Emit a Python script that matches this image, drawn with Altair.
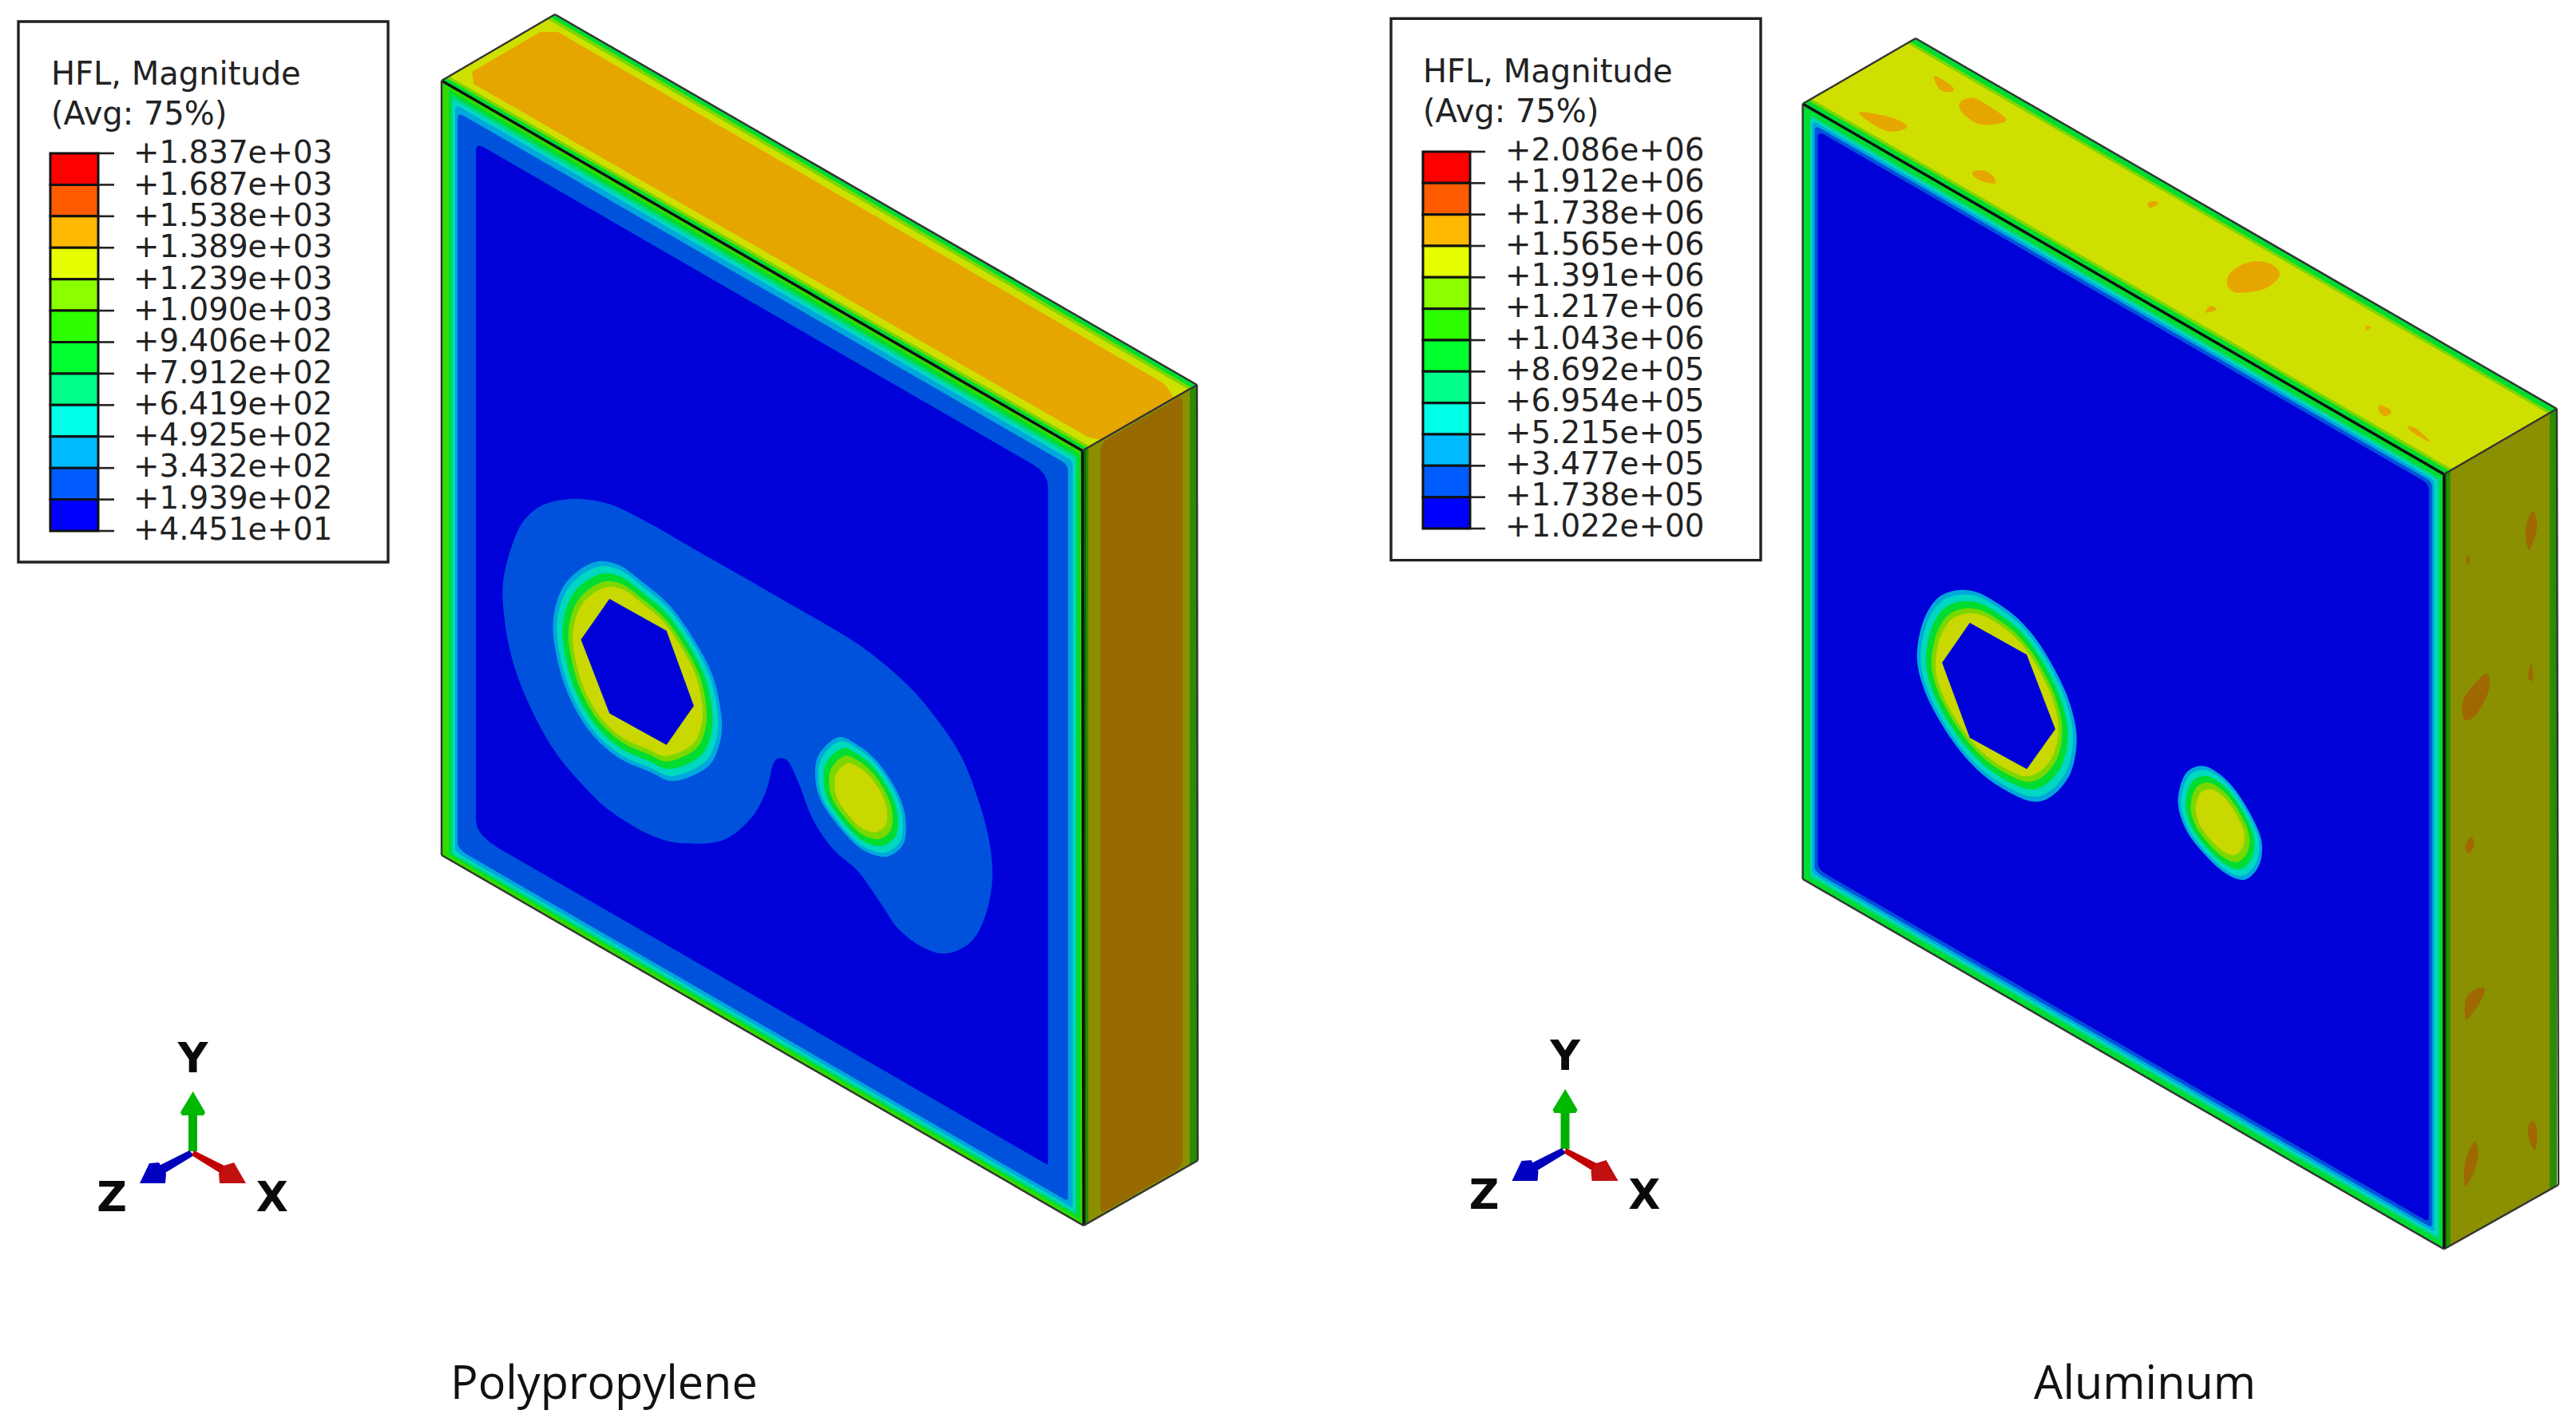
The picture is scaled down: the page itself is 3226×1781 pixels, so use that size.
import altair as alt
import pandas as pd

# ---- legend content
LABELS_PP = ["+1.837e+03","+1.687e+03","+1.538e+03","+1.389e+03","+1.239e+03","+1.090e+03","+9.406e+02",
             "+7.912e+02","+6.419e+02","+4.925e+02","+3.432e+02","+1.939e+02","+4.451e+01"]
LABELS_AL = ["+2.086e+06","+1.912e+06","+1.738e+06","+1.565e+06","+1.391e+06","+1.217e+06","+1.043e+06",
             "+8.692e+05","+6.954e+05","+5.215e+05","+3.477e+05","+1.738e+05","+1.022e+00"]
CELL_COLORS = ["#ff0000","#ff5c00","#ffb900","#e6ff00","#8bff00","#2eff00","#00ff2e","#00ff8b","#00ffe6","#00b9ff","#005cff","#0000ff"]

# ---- contour palette (as lit in the render)
DEEP, BLUE, CYAN, TEAL, MINT = "#0000d9", "#0052dc", "#00a8dc", "#00d8c0", "#00d880"
GREEN, LGREEN, LIME, YEL, ORANGE = "#00dc30", "#30dc00", "#7ad800", "#cfe000", "#e6a600"
RYEL = "#c8d800"
BROWN, OLIVE, SGREEN, DGREEN, SPOT = "#966a00", "#8a9000", "#2a8c00", "#0f6a00", "#a06800"

# ---- box corners
PP_FRONT = [(553,101),(1355.5,564.5),(1357,1535),(553,1071)]
PP_TOP   = [(553,101),(1355.5,564.5),(1499,482),(695,18)]
PP_SIDE  = [(1356,564.5),(1499,482),(1500,1453.5),(1357,1535)]
AL_FRONT = [(2257.6,130),(3060.7,594),(3060.7,1564.5),(2257.6,1101)]
AL_TOP   = [(2257.6,130),(3060.7,594),(3202,512),(2399,48)]
AL_SIDE  = [(3060.7,594),(3202,512),(3204,1484),(3060.7,1564.5)]

# (colour, left, right, top, bottom insets, corner cuts tl,tr,br,bl)
PP_FRONT_BANDS = [(LGREEN,0,0,0,0,(0,0,0,0)),(GREEN,9,3,6,6,(0,0,0,0)),(MINT,12,7,11,8,(4,2,2,4)),(TEAL,14,9,15,11,(5,3,3,5)),
                  (CYAN,17,12,20,14,(6,5,4,8)),(BLUE,20,18,28,19,(8,8,5,14)),(DEEP,43,43,53,50,(10,18,3,30))]
AL_FRONT_BANDS = [(GREEN,0,0,0,0,(0,0,0,0)),(MINT,9,5,8,8,(3,2,2,3)),(TEAL,10,8,11,11,(4,4,3,6)),(CYAN,12,12,14,14,(6,6,4,8)),
                  (BLUE,15,15,18,18,(7,7,5,10)),(DEEP,19,19,23,23,(8,8,6,12))]
PP_SIDE_BANDS = [(DGREEN,0,0,0,0,(0,0,0,0)),(SGREEN,4,0,0,0,(0,0,0,0)),(OLIVE,7,9,0,0,(0,0,0,0)),(BROWN,22,18,3,3,(10,8,10,8))]
AL_SIDE_BANDS = [(DGREEN,0,0,0,0,(0,0,0,0)),(SGREEN,3,0,0,0,(0,0,0,0)),(OLIVE,8,9,0,0,(0,0,0,0))]

# (colour, [(s, t), ...]) along the long edge and across the top face
PP_TOP_BANDS = [(GREEN,[(0,0),(1,0),(1,1),(0,1)]),
                (LIME,[(0,.04),(1,.04),(1,.96),(0,.96)]),
                (YEL,[(0,.065),(1,.065),(1,.93),(0,.93)]),
                (ORANGE,[(.03,.115),(.985,.128),(1,.165),(1,.808),(.974,.868),(.026,.879),(.012,.8),(.012,.2)])]
AL_TOP_BANDS = [(GREEN,[(0,0),(1,0),(1,1),(0,1)]),
                (LIME,[(0,.05),(1,.05),(1,.95),(0,.95)]),
                (YEL,[(0,.075),(1,.075),(1,.925),(0,.925)])]

# ---- hole and spot outlines, in crop pixels of the picture
PP_HEX = [(320,362),(460,458),(527,685),(460,803),(320,708),(250,485)]
PP_RING = [(280,252),(340,258),(400,310),(470,385),(530,490),(575,600),(595,720),(590,800),(560,870),(480,912),
           (420,885),(340,840),(270,760),(215,640),(185,500),(185,400),(215,310)]
PP_BLOB = [(175,70),(250,60),(330,80),(420,135),(540,220),(640,290),(760,375),(880,460),(960,525),(1050,620),(1120,720),
           (1180,830),(1220,950),(1250,1080),(1260,1200),(1245,1310),(1210,1395),(1150,1433),(1090,1415),(1030,1360),
           (985,1280),(930,1185),(870,1120),(820,1030),(785,920),(760,855),(740,843),(722,860),(705,940),(670,1020),
           (600,1090),(500,1100),(420,1075),(330,1010),(270,945),(190,830),(130,700),(85,560),(62,420),(60,300),(90,170),(125,105)]
PP_SMALL = [(880,780),(925,800),(975,850),(1020,930),(1045,1010),(1045,1090),(1020,1130),(985,1140),(930,1110),(870,1030),(835,960),(825,890),(835,830)]
AL_HEX = [(355,240),(555,360),(655,640),(555,790),(355,672),(258,390)]
AL_RING = [(310,118),(380,125),(450,165),(530,230),(600,320),(660,430),(705,540),(730,670),(710,800),(650,885),(580,912),
           (490,875),(400,810),(320,720),(250,610),(195,490),(170,370),(190,240),(240,150)]
AL_SMALL = [(1165,778),(1220,800),(1280,860),(1340,960),(1378,1060),(1370,1150),(1320,1205),(1250,1180),(1170,1100),(1110,1010),(1085,910),(1110,810)]
RING_STEPS = [(CYAN,1.0),(TEAL,.955),(GREEN,.89),(LIME,.82),(RYEL,.77)]
SMALL_STEPS = [(CYAN,1.0),(TEAL,.93),(GREEN,.82),(LIME,.70),(RYEL,.58)]

AL_TOP_SPOTS = [[(290,170),(310,185),(328,210),(325,222),(305,218),(293,195)],
                [(345,250),(370,243),(400,270),(430,305),(428,322),(385,330),(355,305),(340,275)],
                [(140,290),(190,300),(225,320),(235,340),(205,353),(175,335)],
                [(368,482),(390,480),(408,500),(410,522),(385,515),(368,498)],
                [(715,585),(730,580),(735,590),(720,602)],
                [(925,777),(960,785),(978,820),(950,865),(895,880),(875,860),(875,825),(895,795)],
                [(840,922),(852,935),(830,945)],
                [(1150,988),(1160,992),(1150,1002)],
                [(1178,1248),(1198,1262),(1198,1275),(1185,1283),(1175,1265)],
                [(1232,1317),(1250,1325),(1278,1368),(1245,1340)]]
AL_SIDE_SPOTS_LOW = [[(1358,125),(1365,150),(1355,180),(1347,160)],
                     [(1380,618),(1385,640),(1365,695),(1348,722),(1350,650)],
                     [(1365,1125),(1373,1160),(1365,1220),(1347,1268),(1347,1190)],
                     [(1480,1055),(1490,1080),(1487,1150),(1475,1120),(1472,1080)]]
AL_SIDE_SPOTS_HIGH = [[(3172,640),(3177,662),(3167,689),(3163,662)],
                      [(3090,696),(3093,700),(3091,707),(3088,702)],
                      [(3113,844),(3117,864),(3101,895),(3086,901),(3086,874)],
                      [(3170,831),(3172,852),(3166,848)]]

# ---- triad arrows and letters
TRIAD = [("#00b000",[(236,1442),(247,1442),(247,1395),(236,1395)]),
         ("#00b800",[(241.7,1367),(257,1393),(255,1397),(228,1397),(226,1393)]),
         ("#0000b8",[(237,1441),(243,1447),(205,1470),(199,1460)]),
         ("#0000c0",[(187,1457),(199,1456),(208,1470),(207,1482),(175,1482)]),
         ("#c00000",[(243,1441),(285,1462),(277,1470),(240,1447)]),
         ("#c01010",[(280,1460),(293,1456),(308,1482),(275,1482),(274,1470)])]
TRIAD_TEXT = [("Y",241.7,1342.7),("Z",140,1517),("X",340.7,1517)]
TRIAD_SHIFT = (1718.5,-3)

CAPTIONS = [("Polypropylene",564,1752),("Aluminum",2547,1752)]

# ---- legend frames: box, colourbar, tick end, label left, first/last label baseline, title
LEGEND_PP = dict(box=(23,27,486,704),bar=(63,192,123,665),tick=143,text=167,b0=204.4,b1=676,title=(64,106,156),labels=LABELS_PP)
LEGEND_AL = dict(box=(1742,23.3,2205,701.6),bar=(1782,190,1841,662),tick=1860,text=1885,b0=201.2,b1=672.3,title=(1782,103,152.7),labels=LABELS_AL)


def crop(pts, ox, oy, sx, sy):
    return [(ox + x / sx, oy + y / sy) for x, y in pts]

def scaled(pts, k):
    cx = sum(p[0] for p in pts) / len(pts)
    cy = sum(p[1] for p in pts) / len(pts)
    return [(cx + (x - cx) * k, cy + (y - cy) * k) for x, y in pts]

def band(c, L, R, T, B, cuts):
    TL, TR, BR, BL = c
    top = lambda x: TL[1] + (x - TL[0]) * (TR[1] - TL[1]) / (TR[0] - TL[0])
    bot = lambda x: BL[1] + (x - BL[0]) * (BR[1] - BL[1]) / (BR[0] - BL[0])
    xl, xr = TL[0] + L, TR[0] - R
    tl, tr, br, bl = (xl, top(xl) + T), (xr, top(xr) + T), (xr, bot(xr) - B), (xl, bot(xl) - B)
    def curve(a, m, b):
        return [((1-t)**2*a[0] + 2*t*(1-t)*m[0] + t*t*b[0], (1-t)**2*a[1] + 2*t*(1-t)*m[1] + t*t*b[1]) for t in (0, .25, .5, .75, 1)]
    ct, cr, cb, cl = cuts
    pts = []
    pts += curve((xl, tl[1] + ct), tl, (xl + ct, top(xl + ct) + T))
    pts += curve((xr - cr, top(xr - cr) + T), tr, (xr, tr[1] + cr))
    pts += curve((xr, br[1] - cb), br, (xr - cb, bot(xr - cb) - B))
    pts += curve((xl + cl, bot(xl + cl) - B), bl, (xl, bl[1] - cl * .6))
    return pts

def on_top(c, st):
    P0, P3, P2, P1 = c
    return [(P0[0] + s*(P3[0]-P0[0]) + t*(P1[0]-P0[0]), P0[1] + s*(P3[1]-P0[1]) + t*(P1[1]-P0[1])) for s, t in st]

base, smooth, over = [], [], []

# Polypropylene
for col, st in PP_TOP_BANDS:
    base.append((col, on_top(PP_TOP, st)))
for col, L, R, T, B, cuts in PP_FRONT_BANDS:
    base.append((col, band(PP_FRONT, L, R, T, B, cuts)))
for col, L, R, T, B, cuts in PP_SIDE_BANDS:
    base.append((col, band(PP_SIDE, L, R, T, B, cuts)))
smooth.append((BLUE, crop(PP_BLOB, 600, 600, 1.96, 2.412)))
for col, k in RING_STEPS:
    smooth.append((col, scaled(crop(PP_RING, 600, 600, 1.96, 2.412), k)))
over.append((DEEP, crop(PP_HEX, 600, 600, 1.96, 2.412)))
for col, k in SMALL_STEPS:
    smooth.append((col, scaled(crop(PP_SMALL, 600, 600, 1.96, 2.412), k)))

# Aluminum
for col, st in AL_TOP_BANDS:
    base.append((col, on_top(AL_TOP, st)))
for col, L, R, T, B, cuts in AL_FRONT_BANDS:
    base.append((col, band(AL_FRONT, L, R, T, B, cuts)))
for col, L, R, T, B, cuts in AL_SIDE_BANDS:
    base.append((col, band(AL_SIDE, L, R, T, B, cuts)))
for s in AL_TOP_SPOTS:
    smooth.append((ORANGE, crop(s, 2240, 30, 1.59, 2.613)))
for s in AL_SIDE_SPOTS_LOW:
    smooth.append((SPOT, crop(s, 2240, 1000, 1.59, 2.613)))
for s in AL_SIDE_SPOTS_HIGH:
    smooth.append((SPOT, s))
for col, k in RING_STEPS:
    smooth.append((col, scaled(crop(AL_RING, 2340, 700, 2.8, 3), k)))
over.append((DEEP, crop(AL_HEX, 2340, 700, 2.8, 3)))
for col, k in SMALL_STEPS:
    smooth.append((col, scaled(crop(AL_SMALL, 2340, 700, 2.8, 3), k)))

# Triads
for col, pts in TRIAD:
    over.append((col, pts))
for col, pts in TRIAD:
    over.append((col, [(x + TRIAD_SHIFT[0], y + TRIAD_SHIFT[1]) for x, y in pts]))

def frame(polys):
    rows = []
    for pid, (col, pts) in enumerate(polys):
        for i, (x, y) in enumerate(pts):
            rows.append({"pid": 1000 + pid, "i": i, "x": x, "y": y, "col": col})
    return pd.DataFrame(rows)

XS = alt.Scale(domain=[8, 3218], nice=False, zero=False)
YS = alt.Scale(domain=[1773, 8], nice=False, zero=False)
X = alt.X("x:Q", scale=XS, axis=None)
Y = alt.Y("y:Q", scale=YS, axis=None)

def fill_layer(polys, interp):
    return alt.Chart(frame(polys)).mark_line(interpolate=interp, strokeWidth=0).encode(
        x=X, y=Y, order="i:Q", detail="pid:N", fill=alt.Fill("col:N", scale=None))

base_layer = fill_layer(base, "linear-closed")
smooth_layer = fill_layer(smooth, "cardinal-closed")
over_layer = fill_layer(over, "linear-closed")

# box edges
h_rows, l_rows = [], []
for fr, to, si in [(PP_FRONT, PP_TOP, PP_SIDE), (AL_FRONT, AL_TOP, AL_SIDE)]:
    heavy = [[fr[0], fr[1]], [fr[1], fr[2]]]
    light = [[fr[0], fr[3]], [fr[3], fr[2]], [fr[0], to[3]], [to[3], to[2]],
             [to[1], to[2]], [to[2], si[2]], [si[2], si[3]]]
    for store, segs in ((h_rows, heavy), (l_rows, light)):
        for seg in segs:
            sid = 1000 + len(store) // 2
            store.append({"sid": sid, "i": 0, "x": seg[0][0], "y": seg[0][1]})
            store.append({"sid": sid, "i": 1, "x": seg[1][0], "y": seg[1][1]})

heavy_layer = alt.Chart(pd.DataFrame(h_rows)).mark_line(color="#111111", strokeWidth=3.4).encode(x=X, y=Y, order="i:Q", detail="sid:N")
light_layer = alt.Chart(pd.DataFrame(l_rows)).mark_line(color="#333333", strokeWidth=2.4).encode(x=X, y=Y, order="i:Q", detail="sid:N")

# legends
box_rows, cell_rows, tick_rows, text_rows, title_rows = [], [], [], [], []
for leg in (LEGEND_PP, LEGEND_AL):
    x0, y0, x1, y1 = leg["box"]
    box_rows.append({"x": x0, "x2": x1, "y": y0, "y2": y1})
    bx0, by0, bx1, by1 = leg["bar"]
    n = len(CELL_COLORS)
    h = (by1 - by0) / n
    for k, col in enumerate(CELL_COLORS):
        cell_rows.append({"x": bx0, "x2": bx1, "y": by0 + k * h, "y2": by0 + (k + 1) * h, "col": col})
    st = (leg["b1"] - leg["b0"]) / n
    for k, lab in enumerate(leg["labels"]):
        tick_rows.append({"x": bx1, "x2": leg["tick"], "y": by0 + k * h})
        text_rows.append({"x": leg["text"], "y": leg["b0"] + k * st, "t": lab})
    tx, t1, t2 = leg["title"]
    title_rows.append({"x": tx, "y": t1, "t": "HFL, Magnitude"})
    title_rows.append({"x": tx, "y": t2, "t": "(Avg: 75%)"})

box_layer = alt.Chart(pd.DataFrame(box_rows)).mark_rect(fill="white", stroke="#222222", strokeWidth=3.4).encode(
    x=X, x2="x2:Q", y=Y, y2="y2:Q")
cell_layer = alt.Chart(pd.DataFrame(cell_rows)).mark_rect(stroke="#111111", strokeWidth=3).encode(
    x=X, x2="x2:Q", y=Y, y2="y2:Q", fill=alt.Fill("col:N", scale=None))
tick_layer = alt.Chart(pd.DataFrame(tick_rows)).mark_rule(color="#222222", strokeWidth=2.6).encode(x=X, x2="x2:Q", y=Y)
text_layer = alt.Chart(pd.DataFrame(text_rows)).mark_text(font="DejaVu Sans", fontSize=38.8, align="left", baseline="alphabetic", color="#222222").encode(
    x=X, y=Y, text="t:N")
title_layer = alt.Chart(pd.DataFrame(title_rows)).mark_text(font="DejaVu Sans", fontSize=40, align="left", baseline="alphabetic", color="#222222").encode(
    x=X, y=Y, text="t:N")

triad_rows = []
for t, x, y in TRIAD_TEXT:
    triad_rows.append({"t": t, "x": x, "y": y})
    triad_rows.append({"t": t, "x": x + TRIAD_SHIFT[0], "y": y + TRIAD_SHIFT[1]})
triad_text = alt.Chart(pd.DataFrame(triad_rows)).mark_text(font="DejaVu Sans", fontWeight="bold", fontSize=52, align="center", baseline="alphabetic", color="#0a0a0a").encode(
    x=X, y=Y, text="t:N")

cap_df = pd.DataFrame([{"t": t, "x": x, "y": y} for t, x, y in CAPTIONS])
cap_layer = alt.Chart(cap_df).mark_text(font="Open Sans", fontSize=57.6, align="left", baseline="alphabetic", color="#111111").encode(
    x=X, y=Y, text="t:N")

chart = alt.layer(base_layer, smooth_layer, over_layer, heavy_layer, light_layer, box_layer, cell_layer, tick_layer,
                  text_layer, title_layer, triad_text, cap_layer).properties(
    width=3210, height=1765, padding=0, autosize=alt.AutoSizeParams(type="none"), background="white"
).configure_view(stroke=None)

chart.save("out.html", embed_options={"renderer": "svg", "actions": False})
